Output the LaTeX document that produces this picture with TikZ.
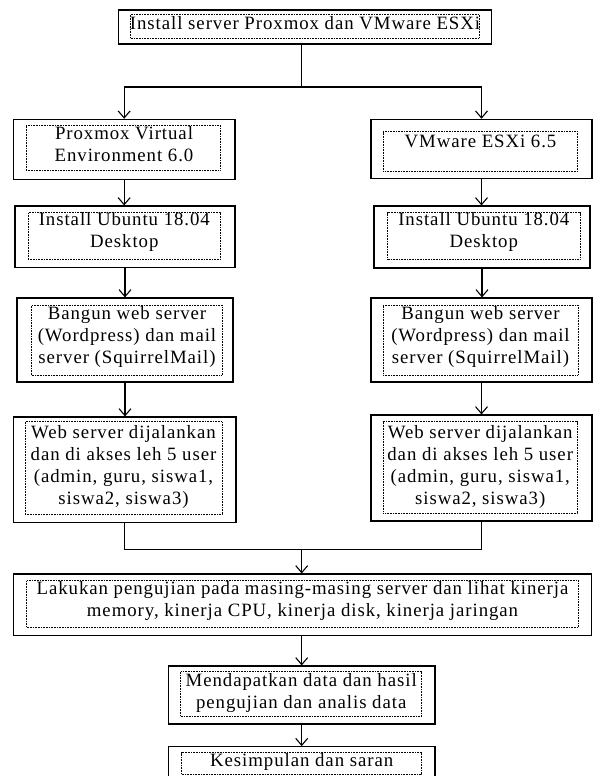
\documentclass[tikz,border=0pt]{standalone}
\usepackage{fontspec}
\setmainfont{Liberation Serif}[LetterSpace=5]
\usetikzlibrary{arrows.meta,fit}

\tikzset{
  outbox/.style={rectangle,draw,line width=1.1pt,inner sep=0pt},
  inbox/.style={rectangle,draw,line width=0.6pt,dash pattern=on 0.8pt off 0.8pt,inner sep=0pt},
  txt/.style={align=center,inner sep=0pt,font=\fontsize{18.8}{22}\selectfont},
  line/.style={line width=1.1pt},
  arr/.style={line,-{Straight Barb[length=7pt,width=12pt]}}
}

\begin{document}
\begin{tikzpicture}[x=1pt,y=-1pt]
\clip (0,0) rectangle (595,776);

% kotak luar
\begin{scope}[every node/.style={outbox}]
    \node[fit={(118.3,10) (491.7,44)}] (install) {};
    \node[fit={(13.3,119.3) (235,179.3)}] (proxmox) {};
    \node[fit={(371,119.3) (592,178.3)}] (vmware) {};
    \node[fit={(15,206) (235,267.7)}] (ubuntuA) {};
    \node[fit={(374,206) (590,268)}] (ubuntuB) {};
    \node[fit={(17,298) (233,382)}] (bangunA) {};
    \node[fit={(371,298) (592,382)}] (bangunB) {};
    \node[fit={(13.3,417) (236,522.7)}] (webA) {};
    \node[fit={(371,415) (592,521)}] (webB) {};
    \node[fit={(13.3,574) (591.7,635.7)}] (uji) {};
    \node[fit={(168.3,666) (435,724)}] (hasil) {};
    \node[fit={(168.3,746.7) (435,790)}] (saran) {};
\end{scope}

% kotak teks (titik-titik)
\begin{scope}[every node/.style={inbox}]
    \node[fit={(130.7,14) (479,38.3)}] (installIn) {};
    \node[fit={(26,125) (220,170)}] (proxmoxIn) {};
    \node[fit={(383.3,131.7) (577.6,171)}] (vmwareIn) {};
    \node[fit={(28,212.7) (220.7,259)}] (ubuntuAIn) {};
    \node[fit={(387.7,212.7) (580,259)}] (ubuntuBIn) {};
    \node[fit={(31.7,305) (222,375)}] (bangunAIn) {};
    \node[fit={(383,305) (578,375)}] (bangunBIn) {};
    \node[fit={(25,421.7) (222,514)}] (webAIn) {};
    \node[fit={(383.3,421.7) (577,513)}] (webBIn) {};
    \node[fit={(26.6,580.7) (578.5,627)}] (ujiIn) {};
    \node[fit={(180.7,671.7) (421.7,716)}] (hasilIn) {};
    \node[fit={(181.7,752.7) (421.7,774)}] (saranIn) {};
\end{scope}

% teks
\begin{scope}[every node/.style={txt}]
    \node (installT) at (305,23.3) {Install server Proxmox dan VMware ESXi};
    \node (proxmoxT) at (124,144.5) {Proxmox Virtual\\Environment 6.0};
    \node (vmwareT) at (480.5,141.7) {VMware ESXi 6.5};
    \node (ubuntuAT) at (124.3,232) {Install Ubuntu 18.04\\Desktop};
    \node (ubuntuBT) at (483.8,232) {Install Ubuntu 18.04\\Desktop};
    \node (bangunAT) at (127,337) {Bangun web server\\(Wordpress) dan mail\\server (SquirrelMail)};
    \node (bangunBT) at (480.5,337) {Bangun web server\\(Wordpress) dan mail\\server (SquirrelMail)};
    \node (webAT) at (123.5,466.5) {Web server dijalankan\\dan di akses leh 5 user\\(admin, guru, siswa1,\\siswa2, siswa3)};
    \node (webBT) at (480.2,466.5) {Web server dijalankan\\dan di akses leh 5 user\\(admin, guru, siswa1,\\siswa2, siswa3)};
    \node (ujiT) at (302.5,601) {Lakukan pengujian pada masing-masing server dan lihat kinerja\\memory, kinerja CPU, kinerja disk, kinerja jaringan};
    \node (hasilT) at (301.2,692.5) {Mendapatkan data dan hasil\\pengujian dan analis data};
    \node (saranT) at (301.7,761.7) {Kesimpulan dan saran};
\end{scope}

% garis penghubung
\coordinate (fork) at (301.7,87);
\coordinate (join) at (301.7,549.5);
\draw[line] (install.south -| fork) -- (fork);
\draw[arr] (fork) -| (proxmox.north);
\draw[arr] (fork) -| (vmware.north);
\draw[arr] (proxmox.south) -- (proxmox.south |- ubuntuA.north);
\draw[arr] (ubuntuA.south) -- (ubuntuA.south |- bangunA.north);
\draw[arr] (bangunA.south) -- (bangunA.south |- webA.north);
\draw[arr] (vmware.south) -- (vmware.south |- ubuntuB.north);
\draw[arr] (ubuntuB.south) -- (ubuntuB.south |- bangunB.north);
\draw[arr] (bangunB.south) -- (bangunB.south |- webB.north);
\draw[line] (webA.south) |- (join);
\draw[line] (webB.south) |- (join);
\draw[arr] (join) -- (uji.north -| join);
\draw[arr] (uji.south -| join) -- (hasil.north -| join);
\draw[arr] (hasil.south -| join) -- (saran.north -| join);
\end{tikzpicture}
\end{document}
